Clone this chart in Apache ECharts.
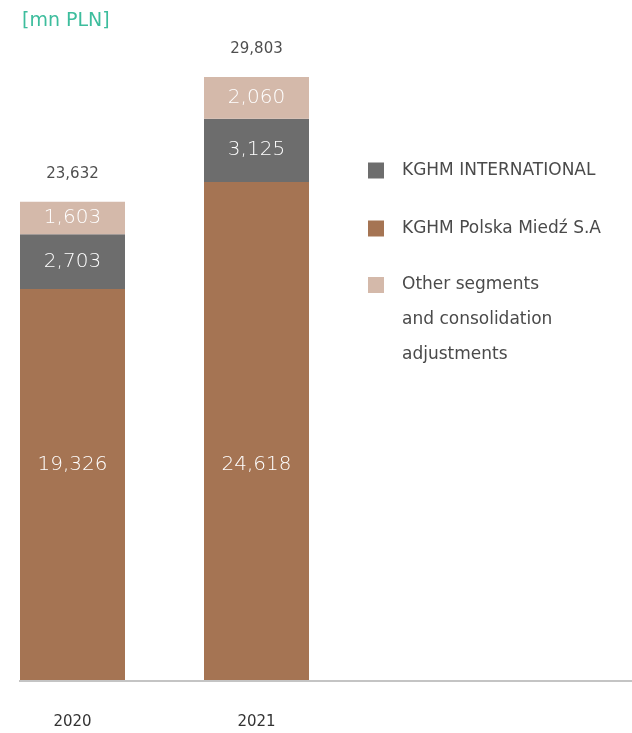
<!DOCTYPE html>
<html>
<head>
<meta charset="utf-8">
<script src="https://cdn.jsdelivr.net/npm/echarts@6/dist/echarts.min.js"></script>
<style>html,body{margin:0;padding:0;background:#fff}#c{width:632px;height:733px}</style>
</head>
<body>
<div id="c"></div>
<script>
var years = ['2020', '2021'];
var polska = [19326, 24618];
var international = [2703, 3125];
var other = [1603, 2060];
var totals = [23632, 29803];
var names = ['KGHM INTERNATIONAL', 'KGHM Polska Miedź S.A', 'Other segments and consolidation adjustments'];

var FONT = 'DejaVu Sans';
function fmt(v) { return v.toLocaleString('en-US'); }
var segLabel = {
  show: true, color: '#fff', fontSize: 20, fontFamily: FONT, fontWeight: 200,
  formatter: function (p) { return fmt(p.value); }
};

var chart = echarts.init(document.getElementById('c'), null, { renderer: 'canvas' });
chart.setOption({
  animation: false,
  backgroundColor: '#fff',
  textStyle: { fontFamily: FONT },
  grid: { left: 72.5, width: 184, top: 73, bottom: 53 },
  xAxis: {
    type: 'category', data: years, boundaryGap: false,
    axisLine: { show: false }, axisTick: { show: false },
    axisLabel: { margin: 35, color: '#333', fontSize: 15, fontFamily: FONT }
  },
  yAxis: { type: 'value', min: 0, max: 30000, show: false, splitLine: { show: false } },
  legend: [{
    orient: 'vertical', left: 363, top: 148,
    itemWidth: 16, itemHeight: 16, itemGap: 23,
    icon: 'rect', selectedMode: false,
    data: [names[0], names[1]],
    textStyle: { color: '#4a4a4a', fontSize: 17, fontFamily: FONT, lineHeight: 35, padding: [0, 0, 0, 13] }
  }, {
    orient: 'vertical', left: 363, top: 192.5,
    itemWidth: 16, itemHeight: 16,
    icon: 'rect', selectedMode: false,
    data: [names[2]],
    formatter: function () { return '\n\nOther segments\nand consolidation\nadjustments'; },
    textStyle: { color: '#4a4a4a', fontSize: 17, fontFamily: FONT, lineHeight: 35, padding: [0, 0, 0, 13] }
  }],
  graphic: [
    { type: 'text', left: 22, top: 12, style: { text: '[mn PLN]', fill: '#3dbd9d', fontSize: 19, fontFamily: FONT } },
    { type: 'line', shape: { x1: 19, y1: 681, x2: 632, y2: 681 }, style: { stroke: '#c4c4c4', lineWidth: 2 } }
  ],
  series: [{
    name: names[1], type: 'bar', stack: 'a', data: polska, barWidth: 105, clip: false,
    itemStyle: { color: '#a57453' },
    label: Object.assign({}, segLabel, { position: 'insideBottom', distance: 205 })
  }, {
    name: names[0], type: 'bar', stack: 'a', data: international, clip: false,
    itemStyle: { color: '#6d6d6d' },
    label: Object.assign({}, segLabel, { position: 'inside' })
  }, {
    name: names[2], type: 'bar', stack: 'a', data: other, clip: false,
    itemStyle: { color: '#d4b9aa' },
    label: Object.assign({}, segLabel, { position: 'inside' })
  }, {
    name: 'Total', type: 'scatter', data: totals, symbolSize: 0, clip: false,
    label: { show: true, position: 'top', distance: 20, color: '#222', fontSize: 15, fontFamily: FONT,
      formatter: function (p) { return fmt(p.value); } }
  }]
});
</script>
</body>
</html>
